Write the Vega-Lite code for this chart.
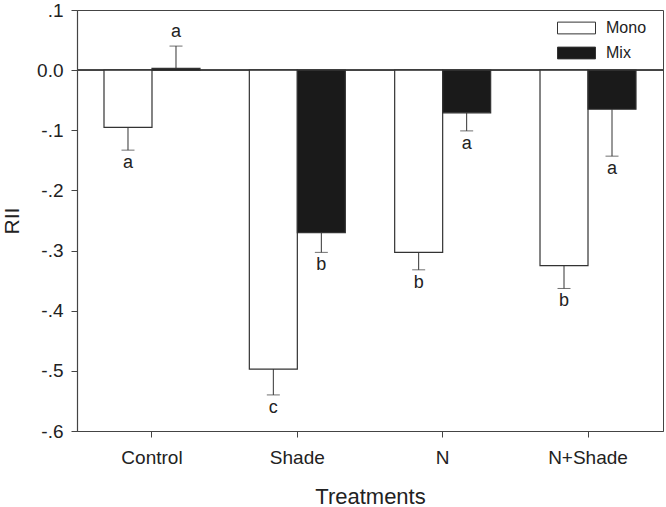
{
  "$schema": "https://vega.github.io/schema/vega-lite/v6.json",
  "width": 586,
  "height": 421,
  "autosize": {"type": "none"},
  "padding": {"left": 77, "top": 10, "right": 3, "bottom": 76},
  "background": "white",
  "config": {
    "font": "Liberation Sans",
    "view": {"stroke": "#444", "strokeWidth": 1},
    "axis": {"grid": false, "domainColor": "#444", "tickColor": "#444", "labelColor": "#222", "titleColor": "#222", "labelFont": "Liberation Sans", "titleFont": "Liberation Sans", "titleFontWeight": "normal"}
  },
  "data": {
    "values": [
      {"treatment": "Control", "group": "Mono", "value": -0.095, "err": -0.133, "letter": "a"},
      {"treatment": "Control", "group": "Mix", "value": 0.003, "err": 0.04, "letter": "a"},
      {"treatment": "Shade", "group": "Mono", "value": -0.497, "err": -0.54, "letter": "c"},
      {"treatment": "Shade", "group": "Mix", "value": -0.27, "err": -0.303, "letter": "b"},
      {"treatment": "N", "group": "Mono", "value": -0.303, "err": -0.332, "letter": "b"},
      {"treatment": "N", "group": "Mix", "value": -0.071, "err": -0.101, "letter": "a"},
      {"treatment": "N+Shade", "group": "Mono", "value": -0.325, "err": -0.363, "letter": "b"},
      {"treatment": "N+Shade", "group": "Mix", "value": -0.065, "err": -0.143, "letter": "a"}
    ]
  },
  "layer": [
    {
      "mark": {"type": "rule", "color": "#444", "strokeWidth": 1},
      "encoding": {"y": {"datum": 0, "type": "quantitative"}}
    },
    {
      "mark": {"type": "rule", "color": "#333", "strokeWidth": 1},
      "encoding": {
        "x": {"field": "treatment", "type": "nominal", "sort": ["Control", "Shade", "N", "N+Shade"]},
        "xOffset": {"field": "group", "type": "nominal", "sort": ["Mono", "Mix"]},
        "y": {"field": "value", "type": "quantitative"},
        "y2": {"field": "err"}
      }
    },
    {
      "mark": {"type": "tick", "color": "#333", "thickness": 1, "size": 13},
      "encoding": {
        "x": {"field": "treatment", "type": "nominal", "sort": ["Control", "Shade", "N", "N+Shade"]},
        "xOffset": {"field": "group", "type": "nominal", "sort": ["Mono", "Mix"]},
        "y": {"field": "err", "type": "quantitative"}
      }
    },
    {
      "mark": {"type": "bar", "stroke": "#333", "strokeWidth": 1.2},
      "encoding": {
        "x": {
          "field": "treatment", "type": "nominal", "sort": ["Control", "Shade", "N", "N+Shade"],
          "scale": {"paddingInner": 0, "paddingOuter": 0.016},
          "axis": {"title": "Treatments", "labelAngle": 0, "labelAlign": "center", "labelBaseline": "top", "labelFontSize": 19, "titleFontSize": 22, "tickSize": 6, "labelPadding": 11, "titleBaseline": "alphabetic", "titleY": 72, "domainWidth": 1.2}
        },
        "xOffset": {"field": "group", "type": "nominal", "sort": ["Mono", "Mix"], "scale": {"paddingInner": 0, "paddingOuter": 0.514}},
        "y": {
          "field": "value", "type": "quantitative",
          "scale": {"domain": [-0.6, 0.1], "nice": false, "zero": false},
          "axis": {"title": "RII", "values": [0.1, 0, -0.1, -0.2, -0.3, -0.4, -0.5, -0.6], "labelExpr": "datum.value == 0 ? '0.0' : (datum.value < 0 ? '-' : '') + '.' + round(abs(datum.value) * 10)", "labelFontSize": 19, "titleFontSize": 21, "tickSize": 6, "labelPadding": 8, "titleBaseline": "alphabetic", "titleX": -59, "domainWidth": 1.2}
        },
        "y2": {"datum": 0},
        "fill": {
          "field": "group", "type": "nominal", "sort": ["Mono", "Mix"],
          "scale": {"domain": ["Mono", "Mix"], "range": ["#ffffff", "#1a1a1a"]},
          "legend": {"title": null, "orient": "none", "legendX": 480, "legendY": 11, "symbolType": "M-1,-0.31L1,-0.31L1,0.31L-1,0.31Z", "symbolSize": 1444, "symbolStrokeColor": "#333", "symbolStrokeWidth": 1, "symbolOpacity": 1, "labelFontSize": 16, "labelColor": "#222", "labelOffset": 10, "clipHeight": 14, "rowPadding": 9}
        }
      }
    },
    {
      "transform": [{"filter": "datum.err < 0"}],
      "mark": {"type": "text", "fontSize": 18, "color": "#222", "baseline": "middle", "dy": 13},
      "encoding": {
        "x": {"field": "treatment", "type": "nominal", "sort": ["Control", "Shade", "N", "N+Shade"]},
        "xOffset": {"field": "group", "type": "nominal", "sort": ["Mono", "Mix"]},
        "y": {"field": "err", "type": "quantitative"},
        "text": {"field": "letter"}
      }
    },
    {
      "transform": [{"filter": "datum.err > 0"}],
      "mark": {"type": "text", "fontSize": 18, "color": "#222", "baseline": "middle", "dy": -14},
      "encoding": {
        "x": {"field": "treatment", "type": "nominal", "sort": ["Control", "Shade", "N", "N+Shade"]},
        "xOffset": {"field": "group", "type": "nominal", "sort": ["Mono", "Mix"]},
        "y": {"field": "err", "type": "quantitative"},
        "text": {"field": "letter"}
      }
    }
  ]
}
